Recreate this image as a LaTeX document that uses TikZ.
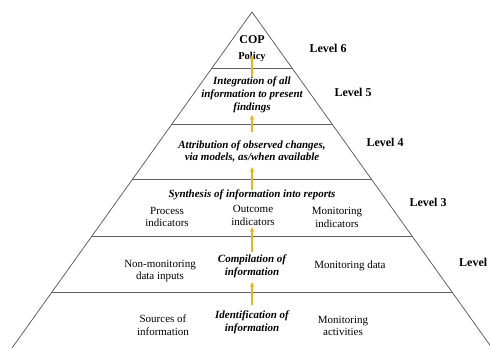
\documentclass[tikz,border=0pt]{standalone}
\usepackage{fontspec}
\setmainfont{Liberation Serif}
\usetikzlibrary{arrows.meta}
\definecolor{edgegray}{RGB}{95,95,95}
\definecolor{gold}{RGB}{232,180,35}
\tikzset{
  px/.style={x=1pt,y=-1pt},
  body/.style={align=center,font=\fontsize{11}{12.8}\selectfont,inner sep=0pt},
  task/.style={body,font=\fontsize{11}{12.8}\selectfont\bfseries\itshape},
  lvl/.style={font=\fontsize{12}{14}\selectfont\bfseries,inner sep=0pt},
  edge/.style={draw=edgegray,line width=0.8pt},
  up/.style={draw=gold,line width=1.3pt,-{Stealth[length=5pt,width=4.5pt]}}
}
\begin{document}
\begin{tikzpicture}[px]
\useasboundingbox (0,0) rectangle (490,348);
% pyramid outline
\coordinate (apex) at (252,12);
\coordinate (bl) at (12,348);
\coordinate (br) at (492,348);
\draw[edge] (bl) -- (apex) -- (br);
\foreach \y/\h in {68/40,124/80,179/119.2,236/160,292/200}{
  \draw[edge] (252-\h,\y) -- (252+\h,\y);
}
% level 6
\node[font=\fontsize{12}{14}\selectfont\bfseries,inner sep=0pt] (cop) at (252,40) {COP};
\node[font=\fontsize{10.5}{12}\selectfont\bfseries,inner sep=0pt] (policy) at (252,57) {Policy};
% level 5
\node[task] (integ) at (252,95) {Integration of all\\information to present\\findings};
% level 4
\node[task] (attr) at (252,151.5) {Attribution of observed changes,\\via models, as/when available};
% level 3
\node[task] (synth) at (252,195) {Synthesis of information into reports};
\node[body] (proc) at (167,217) {Process\\indicators};
\node[body] (outc) at (253,215.5) {Outcome\\indicators};
\node[body] (moni) at (337,217.5) {Monitoring\\indicators};
% level 2
\node[body] (nonmon) at (160,271) {Non-monitoring\\data inputs};
\node[task] (comp) at (252,266.5) {Compilation of\\information};
\node[body] (mdata) at (350,266) {Monitoring data};
% level 1
\node[body] (src) at (163,325.5) {Sources of\\information};
\node[task] (ident) at (252,322) {Identification of\\information};
\node[body] (mact) at (343,326) {Monitoring\\activities};
% level labels
\node[lvl] (l6) at (328,48) {Level 6};
\node[lvl] (l5) at (353,92) {Level 5};
\node[lvl] (l4) at (385,142) {Level 4};
\node[lvl] (l3) at (428,202) {Level 3};
\node[lvl,anchor=west] (l2) at (459,262) {Level};
% arrows
\coordinate (a1s) at (252,77); \coordinate (a1e) at (252,55);
\coordinate (a2s) at (252,132); \coordinate (a2e) at (252,115);
\coordinate (a3s) at (252,190); \coordinate (a3e) at (252,167);
\coordinate (a4s) at (252,252); \coordinate (a4e) at (252,227);
\coordinate (a5s) at (252,305); \coordinate (a5e) at (252,282);
\draw[up] (a1s) -- (a1e);
\draw[up] (a2s) -- (a2e);
\draw[up] (a3s) -- (a3e);
\draw[up] (a4s) -- (a4e);
\draw[up] (a5s) -- (a5e);
\end{tikzpicture}
\end{document}
